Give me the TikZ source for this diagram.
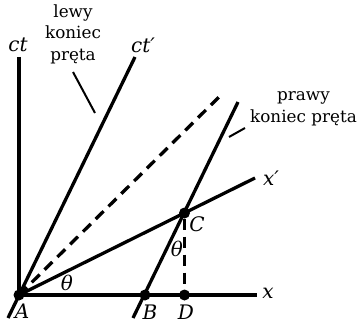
\documentclass[tikz,border=0pt]{standalone}
\usepackage{fontspec}
\setmainfont{DejaVu Serif}
\begin{document}
\begin{tikzpicture}[x=1pt,y=-1pt,
  axis/.style={line width=3.3pt},
  dashline/.style={line width=3.3pt,dash pattern=on 11pt off 7pt},
  pointer/.style={line width=2pt},
  dot/.style={circle,fill=black,inner sep=0pt,minimum size=11pt},
  lab/.style={font=\fontsize{20}{22}\selectfont\itshape,inner sep=0pt},
  txt/.style={font=\fontsize{16.8}{21.5}\selectfont,inner sep=0pt,align=center}]
\useasboundingbox (0,0) rectangle (358,326);
% points
\coordinate (ctTop) at (19,57);
\coordinate (ctpTop) at (135,57);
\coordinate (ctpBot) at (8,318);
\coordinate (dashTop) at (220,96);
\coordinate (xpEnd) at (255,178);
\coordinate (xEnd) at (257,295);
\coordinate (rodTop) at (238,102);
\coordinate (rodBot) at (133,318);
\coordinate (Apos) at (19,295);
\coordinate (Cpos) at (184.5,213);
% lines
\draw[axis] (ctTop) -- (Apos);
\draw[axis] (Apos) -- (xEnd);
\draw[axis] (ctpBot) -- (ctpTop);
\draw[axis] (Apos) -- (xpEnd);
\draw[axis] (rodBot) -- (rodTop);
\draw[dashline] (Apos) -- (dashTop);
\node[dot] (A) at (Apos) {};
\node[dot] (B) at (145,295) {};
\node[dot] (C) at (Cpos) {};
\node[dot] (D) at (184.5,295) {};
\draw[dashline] (C) -- (D);
% labels
\node[lab] (lct) at (18,45) {ct};
\node[lab] (lctp) at (143,45) {ct′};
\node[lab] (lx) at (268,293) {x};
\node[lab] (lxp) at (271,178) {x′};
\node[lab] (lA) at (22,311) {A};
\node[lab] (lB) at (150,312) {B};
\node[lab] (lC) at (197,224) {C};
\node[lab] (lD) at (186,312) {D};
\node[lab] (th1) at (67,283) {θ};
\node[lab] (th2) at (177,249) {θ};
\node[txt] (left) at (73,34) {lewy\\koniec\\pręta};
\node[txt] (right) at (303.5,109) {prawy\\koniec pręta};
\coordinate (lp1) at (73,72);
\coordinate (lp2) at (95,113);
\coordinate (rp1) at (245,128);
\coordinate (rp2) at (229,137);
\draw[pointer] (lp1) -- (lp2);
\draw[pointer] (rp1) -- (rp2);
\end{tikzpicture}
\end{document}
